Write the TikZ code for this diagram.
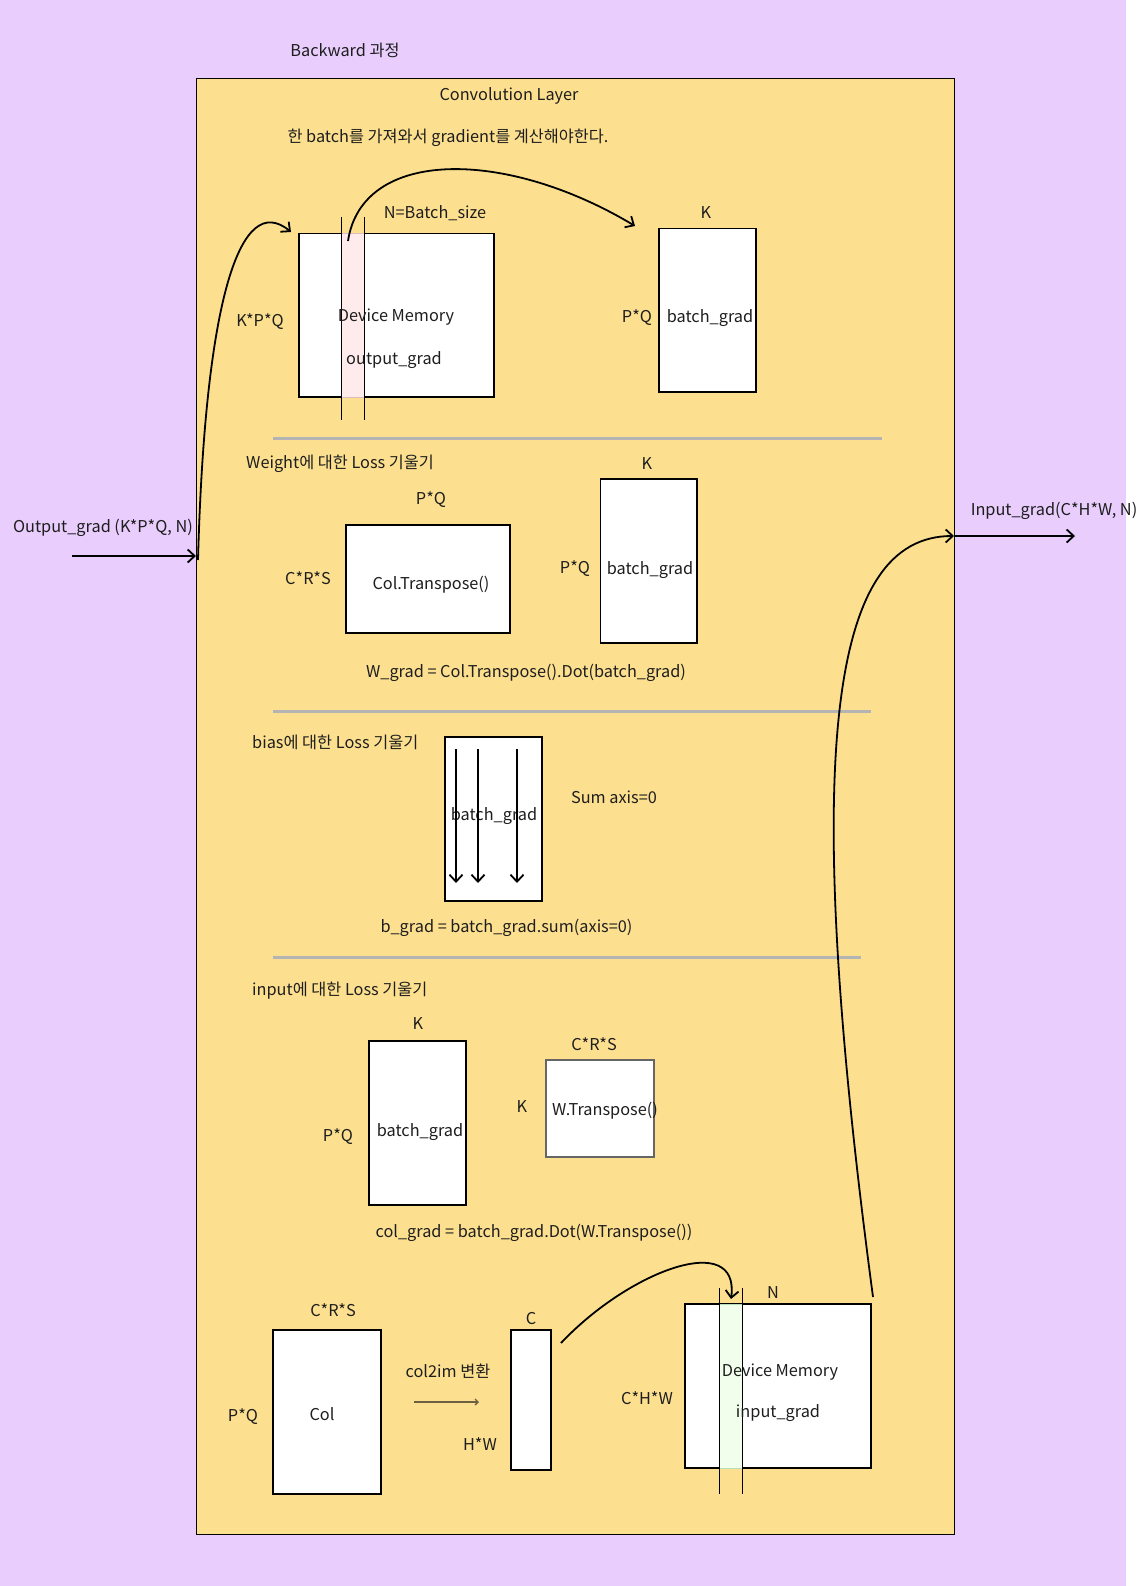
\documentclass[tikz,border=0pt]{standalone}
\usepackage{fontspec}
\setmainfont{Noto Sans CJK KR}
\usetikzlibrary{arrows.meta,positioning}
\definecolor{bgpurple}{HTML}{E9CEFD}
\definecolor{layeryellow}{HTML}{FDE08F}
\definecolor{colpink}{HTML}{FFEBEB}
\definecolor{colgreen}{HTML}{F2FEEC}
\definecolor{sepgray}{HTML}{B4B4B4}
\definecolor{inkdark}{HTML}{1E1E1E}
\definecolor{convink}{HTML}{6B6040}
\tikzset{
  matbox/.style={draw=black, fill=white, line width=1.3pt, inner sep=0pt},
  lbl/.style={inner sep=0pt, yshift=-2pt, text=inkdark, font=\fontsize{16.3}{19}\selectfont},
  flow/.style={line width=1.8pt, -{Straight Barb[length=7pt,width=13pt]}},
  sepline/.style={draw=sepgray, line width=3pt},
}
\begin{document}
\begin{tikzpicture}[x=1pt,y=-1pt]
\fill[white] (0,0) rectangle (1140,1586);
\fill[bgpurple] (0,0) rectangle (1126,1586);
\useasboundingbox (0,0) rectangle (1140,1586);

% layer frame
\node[draw, fill=layeryellow, line width=1.3pt, minimum width=758pt, minimum height=1456pt, anchor=north west] (layer) at (196,78) {};
\node[lbl] (title) at (345,48) {Backward 과정};
\node[lbl] (layername) at (509,94) {Convolution Layer};
\node[lbl] (note) at (448,136) {한 batch를 가져와서 gradient를 계산해야한다.};

% output_grad in device memory
\node[matbox, minimum width=195pt, minimum height=163.5pt] (outmem) at (396.5,315.25) {};
\fill[colpink, draw=gray!70!red!40] (341,233.5) rectangle (364,397);
\draw[line width=0.9pt] (341,217) -- (341,420);
\draw[line width=0.9pt] (364,217) -- (364,420);
\node[lbl] (outmemA) at (396,315) {Device Memory};
\node[lbl] (outmemB) at (394,358) {output\_grad};
\node[lbl] (outN) at (435,211) {N=Batch\_size};
\node[lbl] (outK) at (260,320) {K*P*Q};

\node[matbox, minimum width=97pt, minimum height=163.5pt] (bg1) at (707.5,310.25) {};
\node[lbl] (bg1txt) at (710,316) {batch\_grad};
\node[lbl] (bg1K) at (706,211) {K};
\node[lbl] (bg1PQ) at (637,316) {P*Q};

\draw[sepline] (273,438) -- (882,438);

% weight gradient
\node[lbl, anchor=west] (wtitle) at (246,462) {Weight에 대한 Loss 기울기};
\node[matbox, minimum width=164pt, minimum height=108pt] (colT) at (428,579) {};
\node[lbl] (colTtxt) at (431,583) {Col.Transpose()};
\node[lbl] (colTPQ) at (431,498) {P*Q};
\node[lbl] (colTCRS) at (308,576) {C*R*S};
\node[matbox, minimum width=96.5pt, minimum height=164pt] (bg2) at (648.75,561) {};
\node[lbl] (bg2txt) at (650,568) {batch\_grad};
\node[lbl] (bg2K) at (647,462) {K};
\node[lbl] (bg2PQ) at (575,567) {P*Q};
\node[lbl] (wgrad) at (526,671) {W\_grad = Col.Transpose().Dot(batch\_grad)};

\draw[sepline] (273,711) -- (871,711);

% bias gradient
\node[lbl, anchor=west] (btitle) at (252,740) {bias에 대한 Loss 기울기};
\node[matbox, minimum width=97pt, minimum height=164pt] (bg3) at (493.5,819) {};
\node[lbl] (bg3txt) at (494,814) {batch\_grad};
\foreach \ax [count=\i] in {456,478,517} {
  \coordinate (sumtop\i) at (\ax,749);
  \coordinate (sumbot\i) at (\ax,883);
  \draw[flow] (sumtop\i) -- (sumbot\i);
}
\node[lbl] (sumaxis) at (614,795) {Sum axis=0};
\node[lbl] (bgrad) at (506.5,926) {b\_grad = batch\_grad.sum(axis=0)};

\draw[sepline] (273,957) -- (861,957);

% input gradient
\node[lbl, anchor=west] (ititle) at (252,989) {input에 대한 Loss 기울기};
\node[matbox, minimum width=97pt, minimum height=164pt] (bg4) at (417.5,1123) {};
\node[lbl] (bg4txt) at (420,1130) {batch\_grad};
\node[lbl] (bg4K) at (418,1022) {K};
\node[lbl] (bg4PQ) at (338,1134) {P*Q};
\node[matbox, draw=black!60, minimum width=108pt, minimum height=97pt] (wT) at (600,1108.5) {};
\node[lbl] (wTtxt) at (605,1109) {W.Transpose()};
\node[lbl] (wTCRS) at (594,1042) {C*R*S};
\node[lbl] (wTK) at (522,1105) {K};
\node[lbl] (colgrad) at (534,1231) {col\_grad = batch\_grad.Dot(W.Transpose())};

\node[matbox, minimum width=108pt, minimum height=164pt] (colm) at (327,1412) {};
\node[lbl] (colmtxt) at (322,1412) {Col};
\node[lbl] (colmCRS) at (333,1308) {C*R*S};
\node[lbl] (colmPQ) at (243,1414) {P*Q};
\node[lbl] (c2i) at (448,1369) {col2im 변환};
\coordinate (c2ia) at (414,1402);
\coordinate (c2ib) at (479,1402);
\draw[draw=convink, line width=1.3pt, -{Straight Barb[length=3pt,width=6pt]}] (c2ia) -- (c2ib);
\node[matbox, minimum width=40pt, minimum height=140pt] (cimg) at (531,1400) {};
\node[lbl] (cimgC) at (531,1317) {C};
\node[lbl] (cimgHW) at (480,1442) {H*W};

\node[matbox, minimum width=186pt, minimum height=164pt] (inmem) at (778,1386) {};
\fill[colgreen, draw=gray!60!green!40] (719,1304) rectangle (742,1468);
\draw[line width=0.9pt] (719,1288) -- (719,1494);
\draw[line width=0.9pt] (742,1288) -- (742,1494);
\node[lbl] (inmemA) at (780,1370) {Device Memory};
\node[lbl] (inmemB) at (778,1411) {input\_grad};
\node[lbl] (inN) at (773,1291) {N};
\node[lbl] (inCHW) at (647,1396) {C*H*W};

% connectors
\node[lbl] (outlbl) at (103,526) {Output\_grad (K*P*Q, N)};
\coordinate (outsrc) at (72,556);
\draw[flow] (outsrc) -- (layer.west |- outsrc);
\coordinate (arcA) at (198,560);
\coordinate (arcB) at (291,232);
\draw[flow] (arcA) .. controls (205,300) and (240,190) .. (arcB);
\coordinate (arcC) at (348,241);
\coordinate (arcD) at (635,226);
\draw[flow] (arcC) .. controls (362,148) and (505,148) .. (arcD);
\coordinate (arcE) at (561,1343);
\coordinate (arcF) at (731,1299);
\draw[flow] (arcE) .. controls (630,1270) and (740,1230) .. (arcF);
\coordinate (arcG) at (873,1297);
\coordinate (ingate) at (954,536);
\draw[flow] (arcG) .. controls (800,750) and (830,536) .. (ingate);
\coordinate (indst) at (1075,536);
\draw[flow] (ingate) -- (indst);
\node[lbl] (inlbl) at (1054,509) {Input\_grad(C*H*W, N)};
\end{tikzpicture}
\end{document}
